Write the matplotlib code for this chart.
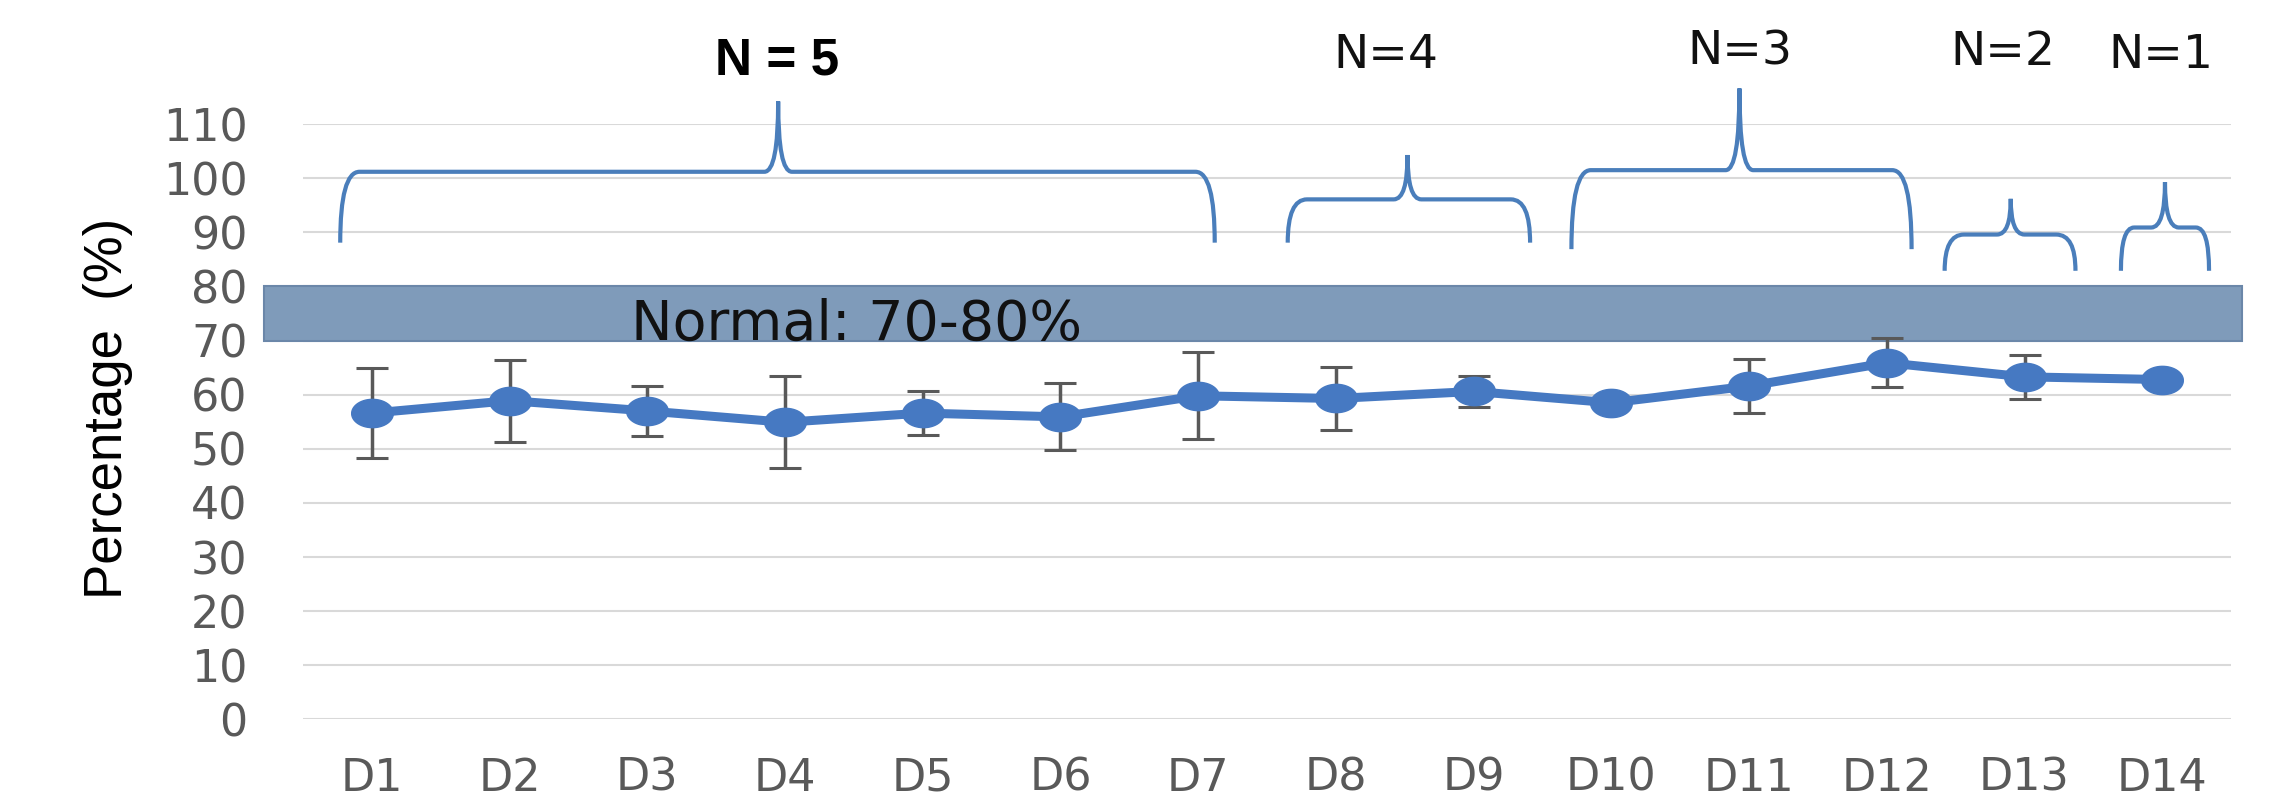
import numpy as np
import matplotlib
matplotlib.use("Agg")
import matplotlib.pyplot as plt
from matplotlib.path import Path
from matplotlib.patches import PathPatch, Rectangle

# ----- DATA -----
days = ["D1", "D2", "D3", "D4", "D5", "D6", "D7",
        "D8", "D9", "D10", "D11", "D12", "D13", "D14"]
mean_pct = [56.6, 58.9, 57.0, 54.9, 56.6, 55.9, 59.8,
            59.3, 60.6, 58.5, 61.6, 65.9, 63.3, 62.8]
sd_pct = [8.3, 7.6, 4.7, 8.5, 4.0, 6.2, 8.0,
          5.9, 2.9, 1.5, 5.0, 4.5, 4.1, 0.0]
normal_low, normal_high = 70, 80
group_labels = ["N = 5", "N=4", "N=3", "N=2", "N=1"]

# ----- LAYOUT -----
BLUE = "#4679c2"
GREY = "#595959"
# brace geometry: left, right, tip x, foot y, bar y, tip y
braces = [
    (0.77, 7.12, 3.95, 88.1, 101.2, 114.2),
    (7.65, 9.41, 8.52, 88.1, 96.1, 104.3),
    (9.71, 12.18, 10.93, 86.9, 101.5, 116.6),
    (12.42, 13.37, 12.90, 82.9, 89.6, 96.2),
    (13.70, 14.34, 14.02, 82.9, 90.9, 99.3),
]
label_pos = [(3.94, 121.6), (8.36, 122.7), (10.93, 123.3), (12.84, 123.2), (13.99, 122.7)]

fig = plt.figure(figsize=(22.75, 7.99), dpi=100)
ax = fig.add_axes([0.1332, 0.0997, 0.8475, 0.7449])

x = np.arange(1, len(days) + 1)

# error bars under the markers
ax.errorbar(x, mean_pct, yerr=sd_pct, fmt="none", ecolor=GREY,
            elinewidth=2.5, capsize=11.5, capthick=2.2, zorder=3)

# slightly wide oval marker
t = np.linspace(0, 2 * np.pi, 60)
oval = Path(np.column_stack([np.cos(t), 0.68 * np.sin(t)]))
ax.plot(x, mean_pct, color=BLUE, lw=6.5, marker=oval, markersize=30,
        markerfacecolor=BLUE, markeredgecolor=BLUE, zorder=4)

ax.set_xlim(0.5, len(days) + 0.5)
ax.set_ylim(0, 110)
ax.set_yticks(np.arange(0, 111, 10))
ax.set_xticks(x)
ax.set_xticklabels(days)
ax.grid(axis="y", color="#d9d9d9", lw=1.5, zorder=0)
ax.set_axisbelow(True)
for s in ax.spines.values():
    s.set_visible(False)
ax.tick_params(axis="both", length=0, colors=GREY, labelsize=32)
ax.tick_params(axis="y", pad=40)
ax.tick_params(axis="x", pad=27)

ax.set_ylabel("Percentage  (%)", family="Liberation Sans", fontsize=38,
              color="black", va="center")
ax.yaxis.set_label_coords(-0.101, 0.523)

# normal range band
band = Rectangle((0.22, normal_low), 14.36, normal_high - normal_low,
                 facecolor="#7f9bba", edgecolor="#6b87a9", lw=1.5,
                 clip_on=False, zorder=2)
ax.add_patch(band)
ax.text(4.52, normal_low + 0.2, "Normal: 70-80%", fontsize=40,
        color="#111111", ha="center", va="baseline", zorder=2.5)

# group braces
for x0, x1, xt, yb, yh, yt in braces:
    r = min(0.14, 0.15 * (x1 - x0))
    rt = 0.10
    verts = [(x0, yb), (x0, yh), (x0 + r, yh),
             (xt - rt, yh), (xt, yh), (xt, yt),
             (xt, yh), (xt + rt, yh),
             (x1 - r, yh), (x1, yh), (x1, yb)]
    codes = [Path.MOVETO, Path.CURVE3, Path.CURVE3,
             Path.LINETO, Path.CURVE3, Path.CURVE3,
             Path.CURVE3, Path.CURVE3,
             Path.LINETO, Path.CURVE3, Path.CURVE3]
    ax.add_patch(PathPatch(Path(verts, codes), facecolor="none",
                           edgecolor="#4a7ebb", lw=3, clip_on=False))

for lab, (lx, ly) in zip(group_labels, label_pos):
    if lab == "N = 5":
        ax.text(lx, ly, lab, family="Liberation Sans", weight="bold",
                fontsize=37, ha="center", va="center", clip_on=False)
    else:
        ax.text(lx, ly, lab, fontsize=34, color="#111111",
                ha="center", va="center", clip_on=False)

fig.savefig("out.png", dpi=100)
